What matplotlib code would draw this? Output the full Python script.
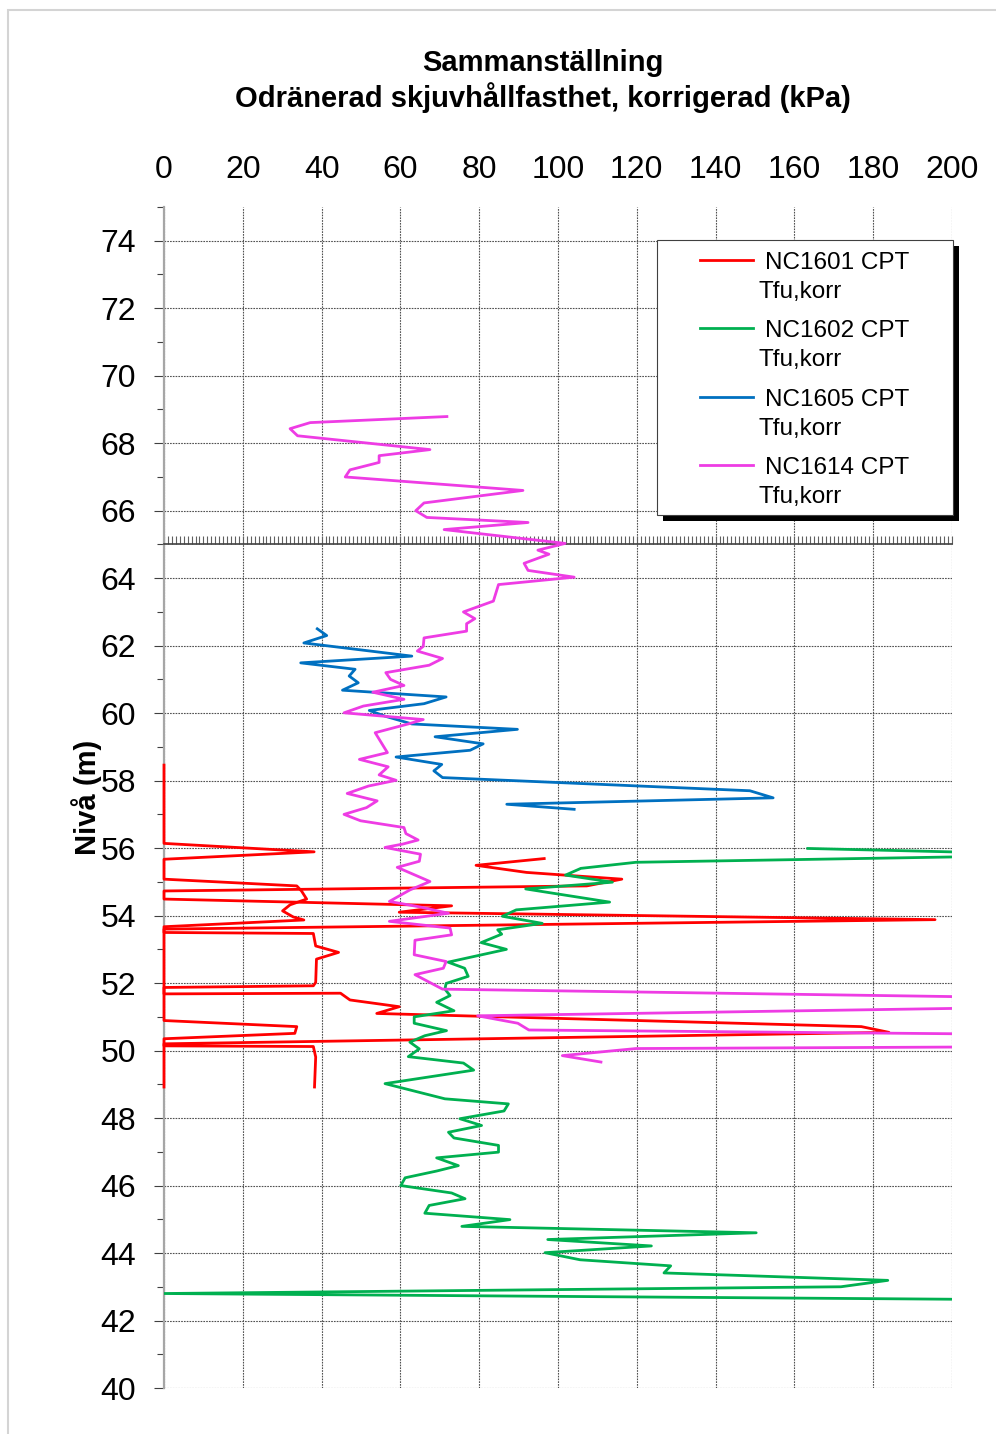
import matplotlib
matplotlib.use('Agg')
import matplotlib.pyplot as plt
from matplotlib.patches import Rectangle
from matplotlib.lines import Line2D
from matplotlib.ticker import MultipleLocator

plt.rcParams['font.family'] = ['Liberation Sans', 'DejaVu Sans']

W, H = 996, 1434

# NC1601 CPT (två delar, samma färg)
red_a_kpa = [96.5, 79.2, 92.0, 116.2, 107.3, 0.0, 0.0, 73.0, 59.7, 195.7, 0.0, 0.0, 37.9, 38.5, 44.3, 38.7,
             38.5, 37.9, 0.0, 0.0, 44.8, 47.2, 59.7, 54.0, 177.0, 184.0, 0.0, 0.0, 37.9, 38.5, 38.2]
red_a_niva = [55.69, 55.49, 55.28, 55.08, 54.88, 54.73, 54.49, 54.29, 54.10, 53.88, 53.60, 53.50, 53.47, 53.10,
              52.91, 52.71, 52.02, 51.92, 51.87, 51.68, 51.70, 51.50, 51.30, 51.10, 50.71, 50.54, 50.20, 50.14,
              50.12, 49.81, 48.92]
red_b_kpa = [0.0, 0.0, 38.1, 0.0, 0.0, 33.7, 34.9, 36.2, 32.0, 30.1, 32.8, 35.5, 0.0, 0.0, 33.7, 33.2, 0.0, 0.0]
red_b_niva = [58.46, 56.14, 55.89, 55.67, 55.08, 54.88, 54.73, 54.49, 54.32, 54.14, 53.96, 53.87, 53.67, 50.89,
              50.71, 50.51, 50.35, 48.92]

# NC1602 CPT
green_kpa = [163.4, 231.7, 119.8, 105.8, 101.9, 113.8, 91.8, 113.1, 89.4, 85.9, 96.0, 84.7, 85.7, 80.5, 86.9,
             72.1, 76.3, 77.2, 71.6, 71.3, 72.6, 69.2, 73.6, 63.5, 63.5, 71.7, 66.2, 62.4, 64.8, 62.0, 76.0, 78.6,
             56.1, 71.3, 87.4, 86.3, 75.1, 80.6, 72.2, 73.6, 84.9, 84.9, 69.2, 74.7, 69.2, 61.2, 60.1, 73.0, 76.4,
             67.3, 66.2, 87.8, 75.6, 150.3, 97.4, 123.7, 96.7, 105.6, 128.6, 126.9, 183.7, 171.8, 0.0, 260.0]
green_niva = [55.99, 55.80, 55.58, 55.40, 55.20, 54.99, 54.79, 54.40, 54.17, 53.98, 53.77, 53.58, 53.45, 53.20,
              53.00, 52.62, 52.44, 52.20, 51.99, 51.82, 51.63, 51.43, 51.18, 51.00, 50.81, 50.59, 50.44, 50.25,
              50.05, 49.82, 49.63, 49.42, 49.02, 48.57, 48.42, 48.21, 47.98, 47.78, 47.58, 47.41, 47.19, 46.99,
              46.82, 46.59, 46.43, 46.23, 46.00, 45.78, 45.61, 45.41, 45.18, 44.99, 44.79, 44.60, 44.40, 44.21,
              44.01, 43.80, 43.62, 43.41, 43.19, 43.00, 42.80, 42.58]

# NC1605 CPT
blue_kpa = [38.9, 41.3, 35.5, 62.9, 34.7, 48.5, 47.0, 49.3, 45.3, 71.6, 66.0, 52.1, 56.1, 62.9, 89.7, 68.8,
            81.0, 77.7, 58.9, 70.5, 68.5, 70.7, 148.7, 154.6, 87.0, 104.1]
blue_niva = [62.50, 62.30, 62.08, 61.69, 61.49, 61.30, 61.10, 60.90, 60.68, 60.48, 60.28, 60.08, 59.91, 59.68,
             59.52, 59.30, 59.09, 58.90, 58.70, 58.48, 58.29, 58.09, 57.70, 57.49, 57.30, 57.15]

# NC1614 CPT
mag_kpa = [71.8, 37.1, 32.0, 33.9, 67.5, 54.6, 54.6, 47.2, 46.0, 91.1, 66.0, 63.9, 66.7, 92.4, 71.1, 101.8,
           94.9, 97.7, 91.4, 92.4, 104.1, 84.9, 83.6, 76.0, 78.9, 76.8, 76.8, 66.0, 65.8, 64.3, 70.7, 67.3, 56.3,
           57.5, 60.9, 53.0, 60.9, 50.6, 45.7, 55.7, 65.8, 62.0, 53.6, 56.7, 49.6, 56.9, 54.6, 58.9, 51.9, 46.5,
           54.1, 51.4, 45.7, 49.9, 60.9, 61.4, 64.5, 60.6, 56.1, 65.1, 64.8, 59.2, 67.5, 62.4, 57.2, 64.8, 72.2,
           57.2, 72.6, 73.0, 63.7, 63.5, 71.6, 70.9, 63.7, 70.7, 300.0, 79.6, 89.8, 92.6, 450.0, 119.8, 101.1,
           110.9]
mag_niva = [68.79, 68.61, 68.43, 68.22, 67.81, 67.63, 67.43, 67.21, 67.00, 66.60, 66.23, 66.00, 65.80, 65.65,
            65.44, 65.03, 64.83, 64.71, 64.44, 64.23, 64.03, 63.81, 63.32, 63.00, 62.80, 62.65, 62.43, 62.23,
            61.98, 61.84, 61.62, 61.42, 61.20, 61.00, 60.82, 60.62, 60.41, 60.21, 60.01, 59.91, 59.81, 59.68,
            59.42, 58.83, 58.63, 58.41, 58.17, 58.01, 57.84, 57.62, 57.40, 57.20, 57.00, 56.81, 56.61, 56.43,
            56.24, 56.12, 56.02, 55.82, 55.61, 55.43, 55.01, 54.76, 54.42, 54.26, 54.07, 53.83, 53.63, 53.43,
            53.27, 52.84, 52.64, 52.44, 52.25, 51.82, 51.43, 51.03, 50.81, 50.61, 50.24, 50.06, 49.85, 49.66]

labels = ['NC1601 CPT', 'NC1602 CPT', 'NC1605 CPT', 'NC1614 CPT']
colors = ['#ff0000', '#00b050', '#0070c0', '#ee3ce4']

x_ticks = list(range(0, 201, 20))
y_ticks = list(range(40, 75, 2))


def fx(px):
    return px / W


def fy(py):
    return 1 - py / H


def draw_legend(fig):
    # skugga + ram
    fig.patches.append(Rectangle((fx(663), fy(521)), fx(296), 275 / H, transform=fig.transFigure,
                                 facecolor='black', edgecolor='none', zorder=5))
    fig.patches.append(Rectangle((fx(657), fy(515)), fx(296), 275 / H, transform=fig.transFigure,
                                 facecolor='white', edgecolor='#404040', linewidth=0.8, zorder=6))
    for i, (lab, col) in enumerate(zip(labels, colors)):
        yc = 260 + i * 68.3
        fig.lines.append(Line2D([fx(700), fx(753)], [fy(yc), fy(yc)], transform=fig.transFigure,
                                color=col, linewidth=2.0, zorder=7))
        fig.text(fx(765), fy(yc + 9), lab, fontsize=17.5, va='baseline', ha='left', zorder=7)
        fig.text(fx(758), fy(yc + 38), 'Tfu,korr', fontsize=17.5, va='baseline', ha='left', zorder=7)


def main():
    fig = plt.figure(figsize=(W / 100, H / 100), dpi=100)
    fig.patches.append(Rectangle((fx(8), fy(1500)), 1.2, (1500 - 10) / H, transform=fig.transFigure,
                                 facecolor='none', edgecolor='#d4d4d4', linewidth=1.5))

    ax = fig.add_axes([fx(164), fy(1388), fx(788), 1181 / H])

    # röda kurvan ligger på 0-linjen, så den klipps inte mot axeln
    ax.plot(red_b_kpa, red_b_niva, color=colors[0], linewidth=2.0, zorder=3, clip_on=False)
    ax.plot(red_a_kpa, red_a_niva, color=colors[0], linewidth=2.0, zorder=3, clip_on=False)
    ax.plot(green_kpa, green_niva, color=colors[1], linewidth=2.0, zorder=3)
    ax.plot(blue_kpa, blue_niva, color=colors[2], linewidth=2.0, zorder=3)
    ax.plot(mag_kpa, mag_niva, color=colors[3], linewidth=2.0, zorder=3)

    ax.set_xlim(0, 200)
    ax.set_ylim(40, 75)

    ax.set_xticks(x_ticks)
    ax.xaxis.set_minor_locator(MultipleLocator(1))
    ax.set_yticks(y_ticks)
    ax.yaxis.set_minor_locator(MultipleLocator(2, offset=1))

    ax.spines['top'].set_visible(False)
    ax.spines['right'].set_visible(False)
    ax.spines['bottom'].set_position(('data', 65))
    ax.spines['bottom'].set_color('#404040')
    ax.spines['bottom'].set_linewidth(1.2)
    ax.spines['left'].set_color('#a6a6a6')
    ax.spines['left'].set_linewidth(1.6)

    ax.tick_params(axis='x', which='both', bottom=True, top=False, labelbottom=False, labeltop=True,
                   direction='in', length=5.5, width=0.8, color='#606060', labelsize=23, pad=15.5)
    ax.tick_params(axis='y', which='major', direction='out', length=7, width=0.8, color='#404040',
                   labelsize=23, pad=13)
    ax.tick_params(axis='y', which='minor', direction='out', length=5, width=0.8, color='#404040')

    ax.grid(True, which='major', color='#505050', linestyle=(0, (1.5, 1)), linewidth=0.8)
    ax.set_axisbelow(True)

    ax.set_ylabel('Nivå (m)', fontsize=21, fontweight='bold')
    ax.yaxis.set_label_coords((102 - 164) / 788, 0.5)

    fig.text(fx(543), fy(71), 'Sammanställning', fontsize=21, fontweight='bold', ha='center', va='baseline')
    fig.text(fx(543), fy(107), 'Odränerad skjuvhållfasthet, korrigerad (kPa)', fontsize=21,
             fontweight='bold', ha='center', va='baseline')

    draw_legend(fig)

    fig.savefig('out.png', dpi=100)


if __name__ == '__main__':
    main()
